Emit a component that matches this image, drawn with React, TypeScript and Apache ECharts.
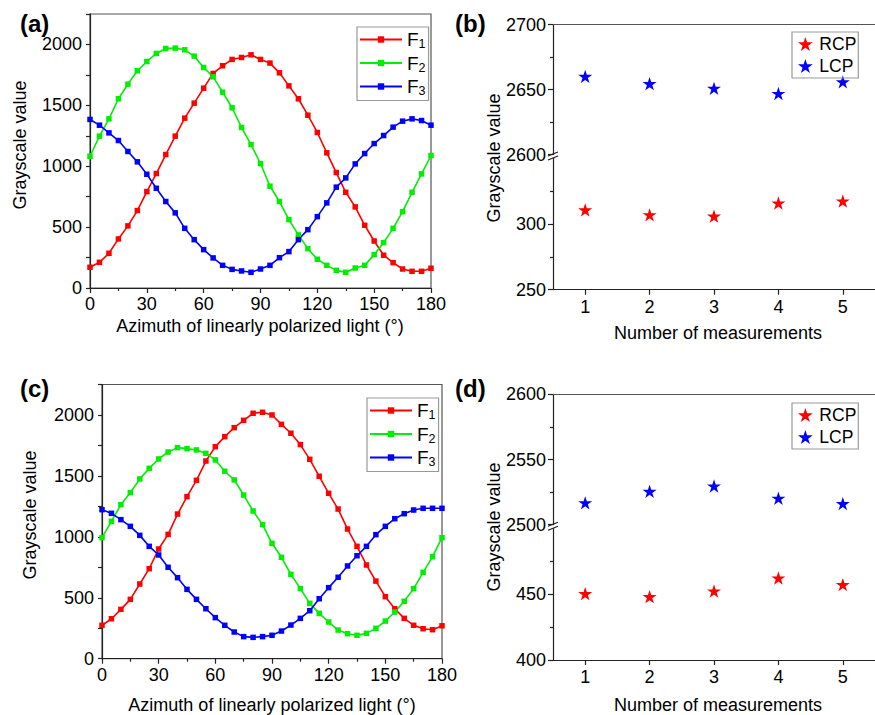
import React, { useEffect, useRef } from "react";
import * as echarts from "echarts";

const FONT = '"Liberation Sans", Arial, sans-serif';

const angles = [0, 5, 10, 15, 20, 25, 30, 35, 40, 45, 50, 55, 60, 65, 70, 75, 80, 85, 90, 95, 100, 105, 110, 115, 120, 125, 130, 135, 140, 145, 150, 155, 160, 165, 170, 175, 180];

const aF1 = [170, 211, 285, 403, 510, 636, 792, 940, 1096, 1247, 1395, 1518, 1641, 1762, 1825, 1877, 1893, 1915, 1877, 1847, 1767, 1660, 1554, 1419, 1277, 1110, 948, 786, 666, 515, 386, 269, 208, 156, 137, 137, 162];
const aF2 = [1082, 1247, 1389, 1554, 1674, 1784, 1860, 1926, 1967, 1970, 1956, 1904, 1811, 1734, 1608, 1480, 1318, 1178, 1022, 836, 710, 562, 436, 323, 236, 186, 145, 129, 164, 186, 274, 373, 490, 627, 786, 937, 1088];
const aF3 = [1384, 1337, 1274, 1211, 1121, 1036, 934, 819, 710, 617, 490, 397, 315, 247, 186, 153, 140, 129, 156, 186, 249, 299, 397, 479, 586, 699, 828, 904, 1019, 1104, 1186, 1252, 1321, 1370, 1389, 1375, 1337];

const cF1 = [274, 328, 405, 487, 613, 739, 900, 1020, 1187, 1330, 1464, 1622, 1740, 1822, 1896, 1956, 2014, 2022, 2000, 1923, 1850, 1757, 1636, 1497, 1357, 1228, 1064, 922, 769, 637, 509, 410, 331, 274, 246, 238, 270];
const cF2 = [993, 1127, 1264, 1363, 1475, 1562, 1639, 1696, 1732, 1724, 1713, 1685, 1631, 1538, 1467, 1343, 1212, 1100, 947, 832, 692, 575, 454, 372, 301, 235, 205, 192, 208, 249, 309, 383, 471, 575, 709, 837, 993];
const cF3 = [1223, 1193, 1141, 1086, 1012, 922, 851, 750, 665, 569, 487, 410, 337, 274, 219, 181, 175, 181, 192, 227, 276, 331, 394, 492, 583, 668, 761, 845, 922, 1018, 1086, 1149, 1190, 1220, 1234, 1234, 1234];

const measurements = ["1", "2", "3", "4", "5"];
const bRCP = [310.7, 307, 306, 316, 317.5];
const bLCP = [2660.2, 2654.6, 2651, 2647, 2656];
const dRCP = [450.5, 448.2, 452.5, 462.4, 457.4];
const dLCP = [2516.8, 2525.6, 2529.7, 2520.3, 2516.2];

const STAR = "path://M50,0L61.23,34.55L97.55,34.55L68.17,55.9L79.39,90.45L50,69.1L20.61,90.45L31.83,55.9L2.45,34.55L38.77,34.55Z";

const RED = "#ff0000";
const GREEN = "#00ee00";
const BLUE = "#0000ff";
const AXIS = "#222";

const axisLine = { show: true, lineStyle: { color: AXIS, width: 1.2 } };
const tickStyle = { color: AXIS, width: 1.2 };
const labelStyle = { color: "#000", fontSize: 18, fontFamily: FONT };
const plain = (v: number) => String(v);

function lineSeries(name: string, color: string, vals: number[], axis: number) {
  return {
    type: "line",
    name,
    xAxisIndex: axis,
    yAxisIndex: axis,
    data: angles.map((x, i) => [x, vals[i]]),
    symbol: "rect",
    symbolSize: 5.5,
    itemStyle: { color },
    lineStyle: { color, width: 1.6 },
    z: 3,
  };
}

function starSeries(name: string, color: string, vals: number[], axis: number) {
  return {
    type: "scatter",
    name,
    xAxisIndex: axis,
    yAxisIndex: axis,
    data: vals,
    symbol: STAR,
    symbolKeepAspect: true,
    symbolSize: 14,
    itemStyle: { color, opacity: 1 },
  };
}

function fLegend(left: number, top: number) {
  return {
    data: ["F1", "F2", "F3"],
    orient: "vertical",
    left,
    top,
    padding: [3, 3, 3, 2],
    itemWidth: 42,
    itemHeight: 8,
    itemGap: 3,
    borderColor: "#999",
    borderWidth: 1.2,
    formatter: (name: string) => `F{s|${name.slice(1)}}`,
    textStyle: {
      color: "#000",
      fontSize: 19,
      fontFamily: FONT,
      rich: { s: { fontSize: 12.5, fontFamily: FONT, color: "#000", padding: [9, 0, 0, 0] } },
    },
  };
}

function pLegend(left: number, top: number) {
  return {
    data: ["RCP", "LCP"],
    orient: "vertical",
    left,
    top,
    padding: [3, 2, 3, 6],
    itemWidth: 18,
    itemHeight: 14,
    itemGap: 4,
    borderColor: "#999",
    borderWidth: 1.2,
    textStyle: { color: "#000", fontSize: 17.5, fontFamily: FONT },
  };
}

function valueY(gridIndex: number, min: number, max: number, interval: number, extra: any = {}) {
  return {
    type: "value",
    gridIndex,
    min,
    max,
    interval,
    axisLine,
    axisTick: { show: true, length: 5, lineStyle: tickStyle },
    axisLabel: { ...labelStyle, margin: 7, formatter: plain },
    splitLine: { show: false },
    ...extra,
  };
}

function breakMarks(yc: number) {
  return [
    { type: "line", shape: { x1: 548, y1: yc - 0.5, x2: 558, y2: yc - 4.5 }, style: { stroke: AXIS, lineWidth: 1.2 }, z: 100 },
    { type: "line", shape: { x1: 548, y1: yc + 3.5, x2: 558, y2: yc - 0.5 }, style: { stroke: AXIS, lineWidth: 1.2 }, z: 100 },
  ];
}

function txt(text: string, x: number, y: number, size: number, bold = false, rotate = false, align = "center") {
  return {
    type: "text",
    x,
    y,
    rotation: rotate ? Math.PI / 2 : 0,
    style: {
      text,
      fill: "#000",
      fontSize: size,
      fontWeight: bold ? "bold" : "normal",
      fontFamily: FONT,
      align,
      verticalAlign: "middle",
    },
    z: 100,
  };
}

export default function App() {
  const ref = useRef<HTMLDivElement>(null);
  useEffect(() => {
    if (!ref.current) return;
    const chart = echarts.init(ref.current, null, { renderer: "svg" });
    const xValueAxis = (gridIndex: number) => ({
      type: "value",
      gridIndex,
      min: 0,
      max: 180,
      interval: 30,
      axisLine,
      axisTick: { show: true, length: 5, lineStyle: tickStyle },
      minorTick: { show: true, splitNumber: 2, length: 3, lineStyle: tickStyle },
      axisLabel: { ...labelStyle, margin: 7, formatter: plain },
      splitLine: { show: false },
    });
    const topCat = (gridIndex: number) => ({
      type: "category",
      gridIndex,
      data: measurements,
      position: "top",
      boundaryGap: true,
      axisLine: { show: true, lineStyle: { color: "#555", width: 1.2 } },
      axisTick: { show: false },
      axisLabel: { show: false },
    });
    const bottomCat = (gridIndex: number) => ({
      type: "category",
      gridIndex,
      data: measurements,
      boundaryGap: true,
      axisLine,
      axisTick: { show: true, alignWithLabel: true, length: 5, lineStyle: tickStyle },
      axisLabel: { ...labelStyle, margin: 8 },
    });
    const option: any = {
      animation: false,
      backgroundColor: "#fff",
      textStyle: { fontFamily: FONT },
      grid: [
        { left: 90, top: 14, width: 341, height: 274, show: true, borderColor: "#555", borderWidth: 1.2 },
        { left: 553, top: 24.7, width: 329.5, height: 129.8 },
        { left: 553, top: 158.3, width: 329.5, height: 131.4 },
        { left: 102, top: 384.5, width: 340, height: 274.2, show: true, borderColor: "#555", borderWidth: 1.2 },
        { left: 553, top: 394.3, width: 329.5, height: 130.4 },
        { left: 553, top: 528.6, width: 329.5, height: 131.4 },
      ],
      xAxis: [xValueAxis(0), topCat(1), bottomCat(2), xValueAxis(3), topCat(4), bottomCat(5)],
      yAxis: [
        valueY(0, 0, 2250, 250, {
          axisTick: { show: true, length: 4, lineStyle: tickStyle },
          axisLabel: { ...labelStyle, margin: 8, formatter: (v: number) => (v % 500 === 0 ? String(v) : "") },
        }),
        valueY(1, 2600, 2700, 50, { minorTick: { show: true, splitNumber: 2, length: 3, lineStyle: tickStyle } }),
        valueY(2, 250, 350, 50, {
          axisTick: { show: true, length: 5, lineStyle: tickStyle, customValues: [250, 300] },
          minorTick: { show: true, splitNumber: 2, length: 3, lineStyle: tickStyle },
          axisLabel: { ...labelStyle, margin: 7, formatter: (v: number) => (v === 350 ? "" : String(v)) },
        }),
        valueY(3, 0, 2250, 250, {
          axisTick: { show: true, length: 4, lineStyle: tickStyle },
          axisLabel: { ...labelStyle, margin: 8, formatter: (v: number) => (v % 500 === 0 ? String(v) : "") },
        }),
        valueY(4, 2500, 2600, 50, { minorTick: { show: true, splitNumber: 2, length: 3, lineStyle: tickStyle } }),
        valueY(5, 400, 500, 50, {
          axisTick: { show: true, length: 5, lineStyle: tickStyle, customValues: [400, 450] },
          minorTick: { show: true, splitNumber: 2, length: 3, lineStyle: tickStyle },
          axisLabel: { ...labelStyle, margin: 7, formatter: (v: number) => (v === 500 ? "" : String(v)) },
        }),
      ],
      legend: [fLegend(357, 27), pLegend(792, 32), fLegend(367, 398), pLegend(792, 403)],
      series: [
        lineSeries("F1", RED, aF1, 0),
        lineSeries("F2", GREEN, aF2, 0),
        lineSeries("F3", BLUE, aF3, 0),
        lineSeries("F1", RED, cF1, 3),
        lineSeries("F2", GREEN, cF2, 3),
        lineSeries("F3", BLUE, cF3, 3),
        starSeries("RCP", RED, bRCP, 2),
        starSeries("LCP", BLUE, bLCP, 1),
        starSeries("RCP", RED, dRCP, 5),
        starSeries("LCP", BLUE, dLCP, 4),
      ],
      graphic: [
        txt("(a)", 20, 23, 24, true, false, "left"),
        txt("(b)", 455, 23, 24, true, false, "left"),
        txt("(c)", 20, 388, 24, true, false, "left"),
        txt("(d)", 455, 388, 24, true, false, "left"),
        txt("Grayscale value", 20, 145, 18, false, true),
        txt("Grayscale value", 30, 515, 18, false, true),
        txt("Grayscale value", 494, 158, 18, false, true),
        txt("Grayscale value", 494, 527, 18, false, true),
        txt("Azimuth of linearly polarized light (°)", 260, 326, 18),
        txt("Azimuth of linearly polarized light (°)", 272, 705, 18),
        txt("Number of measurements", 718, 333, 18),
        txt("Number of measurements", 718, 705, 18),
        ...breakMarks(156.5),
        ...breakMarks(526.8),
      ],
    };
    chart.setOption(option);
    return () => chart.dispose();
  }, []);
  return (
    <div
      ref={ref}
      style={{ position: "absolute", left: 0, top: 0, width: 875, height: 715, background: "#fff" }}
    />
  );
}
